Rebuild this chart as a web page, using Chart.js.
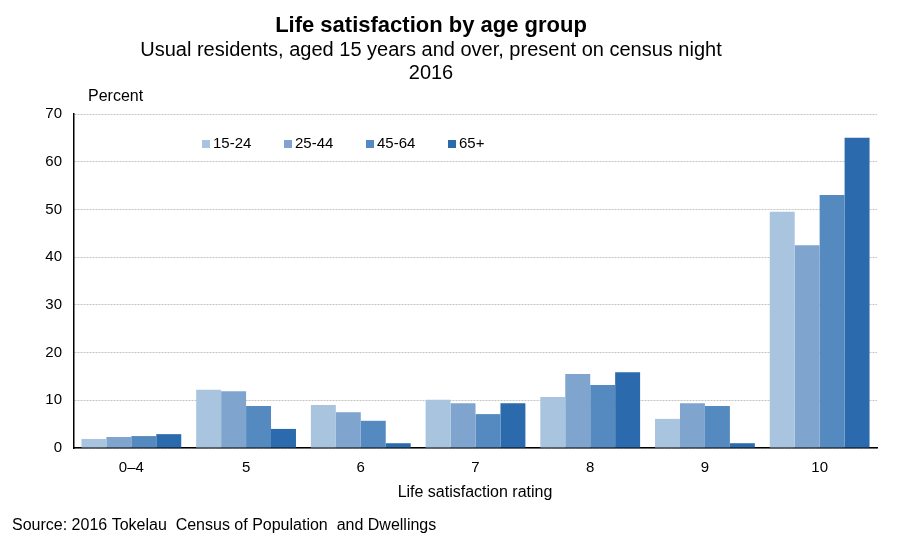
<!DOCTYPE html>
<html>
<head>
<meta charset="utf-8">
<script src="https://cdn.jsdelivr.net/npm/chart.js@4/dist/chart.umd.min.js"></script>
<style>
  body { margin: 0; background: #fff; }
  #wrap { width: 900px; height: 550px; }
</style>
</head>
<body>
<div id="wrap"><canvas id="myChart" width="900" height="550"></canvas></div>
<script>
// ratings on the x axis
const ratings = ["0\u20134", "5", "6", "7", "8", "9", "10"];
const ageGroups = ["15-24", "25-44", "45-64", "65+"];
// percent of each age group
const age15to24 = [1.9, 12.2, 9.0, 10.1, 10.7, 6.1, 49.5];
const age25to44 = [2.3, 11.9, 7.5, 9.4, 15.5, 9.4, 42.5];
const age45to64 = [2.5, 8.8, 5.7, 7.1, 13.2, 8.8, 53.0];
const age65plus = [2.9, 4.0, 1.0, 9.4, 15.9, 1.0, 65.0];
const yTicks = [0, 10, 20, 30, 40, 50, 60, 70];

const colors = ["#a9c4de", "#7fa5cf", "#548abf", "#2b6aac"];
const font = "'Liberation Sans', Arial, sans-serif";

// draws titles, legend and the other texts
const textPlugin = {
    id: "texts",
    afterDraw(chart) {
        const ctx = chart.ctx;
        ctx.save();
        ctx.fillStyle = "#000";
        ctx.textBaseline = "middle";
        ctx.textAlign = "center";
        ctx.font = "bold 22px " + font;
        ctx.fillText("Life satisfaction by age group", 431, 26);
        ctx.font = "20px " + font;
        ctx.fillText("Usual residents, aged 15 years and over, present on census night", 431, 50);
        ctx.fillText("2016", 431, 73);
        ctx.font = "16px " + font;
        ctx.fillText("Life satisfaction rating", 475, 493);
        ctx.textAlign = "left";
        ctx.fillText("Percent", 88, 97);
        ctx.fillText("Source: 2016 Tokelau  Census of Population  and Dwellings", 12, 526);

        // legend inside plot
        ctx.font = "15px " + font;
        chart.data.datasets.forEach((ds, i) => {
            const x = 202 + i * 82;
            ctx.fillStyle = ds.backgroundColor;
            ctx.fillRect(x, 140, 8, 8);
            ctx.fillStyle = "#000";
            ctx.fillText(ds.label, x + 11, 144);
        });
        ctx.restore();
    }
};

new Chart(document.getElementById("myChart").getContext("2d"), {
    type: "bar",
    data: {
        labels: ratings,
        datasets: [
            { label: ageGroups[0], data: age15to24, backgroundColor: colors[0] },
            { label: ageGroups[1], data: age25to44, backgroundColor: colors[1] },
            { label: ageGroups[2], data: age45to64, backgroundColor: colors[2] },
            { label: ageGroups[3], data: age65plus, backgroundColor: colors[3] }
        ]
    },
    options: {
        responsive: false,
        animation: false,
        layout: { padding: { top: 114, left: 0, right: 23, bottom: 52 } },
        datasets: { bar: { categoryPercentage: 0.87, barPercentage: 1.0, borderWidth: 0 } },
        plugins: {
            legend: { display: false },
            title: { display: false },
            tooltip: { enabled: false }
        },
        scales: {
            x: {
                grid: { display: false, drawTicks: false },
                border: { display: true, color: "#000", width: 1.5 },
                ticks: { color: "#000", font: { family: font, size: 15 }, padding: 11 },
                afterFit(scale) { scale.height = 50; }
            },
            y: {
                min: 0,
                max: 70,
                afterBuildTicks(scale) { scale.ticks = yTicks.map(v => ({ value: v })); },
                grid: { color: "#c4c4c4", lineWidth: 1, drawTicks: false },
                // dash here applies to the grid lines
                border: { display: true, color: "#000", width: 1.5, dash: [2, 1] },
                ticks: { color: "#000", font: { family: font, size: 15 }, padding: 12 },
                afterFit(scale) { scale.width = 74; }
            }
        }
    },
    plugins: [textPlugin]
});
</script>
</body>
</html>
